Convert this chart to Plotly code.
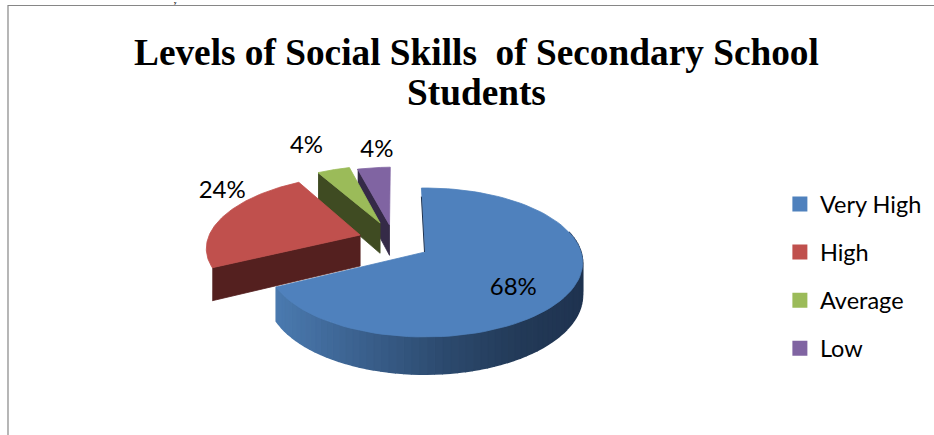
import numpy as np
import plotly.graph_objects as go

categories = ["Very High", "High", "Average", "Low"]
shares = [68, 24, 4, 4]
top_colors = ["#4f81bd", "#c0504d", "#9bbb59", "#8064a2"]
side_colors = ["#2c4a6e", "#54201f", "#3f4b22", "#352a47"]
pull_u = [0.0, -0.43, -0.305, -0.24]
pull_v = [0.0, -0.24, -0.42, -0.39]
label_r = [0.67, 1.0, 1.0, 1.0]
label_dx = [-6, -1, -27, 3]
label_dy = [11, -24, -23, -17]
draw_order = [3, 2, 0, 1]

CX, CY, RX, RY, K, DEPTH = 425, 252, 156, 73, 0.141, 32
ROT = np.radians(-1.5)
W, H = 934, 435

edges = np.radians(np.concatenate([[0], np.cumsum(shares)]) * 3.6)


def project(theta, r, i):
    u = r * np.sin(theta + ROT) + pull_u[i]
    v = -r * np.cos(theta + ROT) + pull_v[i]
    s = 1 / (1 - K * v)
    return CX + RX * u * s, CY + RY * v * s, s


def poly(x, y, color, width=0.8):
    return go.Scatter(x=x, y=y, mode="lines", fill="toself", fillcolor=color,
                      line=dict(color=color, width=width),
                      hoverinfo="skip", showlegend=False)


def blend(t):
    stops = [(0.0, (74, 121, 174)), (0.25, (60, 98, 144)), (0.55, (44, 74, 110)),
             (0.8, (35, 58, 88)), (1.0, (31, 51, 80))]
    t = min(max(t, 0), 1)
    for (a, ca), (b, cb) in zip(stops, stops[1:]):
        if t <= b:
            f = (t - a) / (b - a)
            return "rgb(%d,%d,%d)" % tuple(ca[k] + f * (cb[k] - ca[k]) for k in range(3))


fig = go.Figure()

for i in draw_order:
    a0, a1 = edges[i], edges[i + 1]
    ang = np.linspace(a0, a1, 90)
    ex, ey, es = project(ang, 1.0, i)
    ax, ay, as_ = project(0.0, 0.0, i)
    if i != 0:
        px, py, ps = project(a0, 1.0, i)
        fig.add_trace(poly([px, ax, ax, px], [py, ay, ay + DEPTH * as_, py + DEPTH * ps], side_colors[i]))
    else:
        rim = np.linspace(np.radians(75), a1, 70)
        for t0, t1 in zip(rim[:-1], rim[1:]):
            x0, y0, s0 = project(t0, 1.0, i)
            x1, y1, s1 = project(t1, 1.0, i)
            c = blend(((x0 + x1) / 2 - 281) / 300)
            fig.add_trace(poly([x0, x1, x1, x0], [y0, y1, y1 + DEPTH * s1, y0 + DEPTH * s0], c, 1.5))
    fig.add_trace(poly(np.r_[ax, ex, ax], np.r_[ay, ey, ay], top_colors[i]))
    if i == 0:
        lx, ly, _ = project(np.zeros(2), np.array([0.0, 0.85]), i)
        fig.add_trace(go.Scatter(x=lx - 0.5, y=ly, mode="lines", line=dict(color="#1f3350", width=1),
                                 hoverinfo="skip", showlegend=False))

# percentage labels
mids = (edges[:-1] + edges[1:]) / 2
lab = [project(mids[i], label_r[i], i) for i in range(4)]
fig.add_trace(go.Scatter(
    x=[lab[i][0] + label_dx[i] for i in range(4)],
    y=[lab[i][1] + label_dy[i] for i in range(4)],
    text=[f"{v}%" for v in shares], mode="text", textposition="middle center",
    textfont=dict(family="Lato", size=24, color="#000000"),
    hoverinfo="skip", showlegend=False))

# legend
for name, col in zip(categories, top_colors):
    fig.add_trace(go.Scatter(x=[None], y=[None], mode="markers", name=name, legendgroup=name,
                             marker=dict(symbol="square", size=15, color=col)))

title_font = dict(family="Liberation Serif", size=37.3, color="#000000")
fig.update_layout(
    width=W, height=H, margin=dict(l=0, r=0, t=0, b=0),
    paper_bgcolor="#ffffff", plot_bgcolor="#ffffff",
    xaxis=dict(range=[0, W], visible=False, fixedrange=True),
    yaxis=dict(range=[H, 0], visible=False, fixedrange=True),
    legend=dict(x=0.835, y=0.581, xanchor="left", yanchor="top",
                font=dict(family="Lato", size=23.5, color="#000000"),
                tracegroupgap=14.5, itemclick=False, bgcolor="rgba(0,0,0,0)"),
    annotations=[
        dict(text="<b>Levels of Social Skills\u00a0 of Secondary School</b>", x=476, y=52, xref="x", yref="y",
             showarrow=False, font=title_font, xanchor="center", yanchor="middle"),
        dict(text="<b>Students</b>", x=476, y=92, xref="x", yref="y",
             showarrow=False, font=title_font, xanchor="center", yanchor="middle"),
        dict(text="<b>y</b>", x=175, y=0, xref="x", yref="y", showarrow=False, borderpad=0, borderwidth=0,
             font=dict(family="Liberation Serif", size=5, color="#000000"),
             xanchor="center", yanchor="top"),
    ],
    shapes=[
        dict(type="line", x0=8, x1=W, y0=5.5, y1=5.5, xref="x", yref="y", line=dict(color="#868686", width=1.2)),
        dict(type="line", x0=8, x1=8, y0=5, y1=H, xref="x", yref="y", line=dict(color="#868686", width=1.2)),
    ],
)
fig.write_html("out.html", config={"displayModeBar": False}, post_script="document.body.style.margin='0';")
